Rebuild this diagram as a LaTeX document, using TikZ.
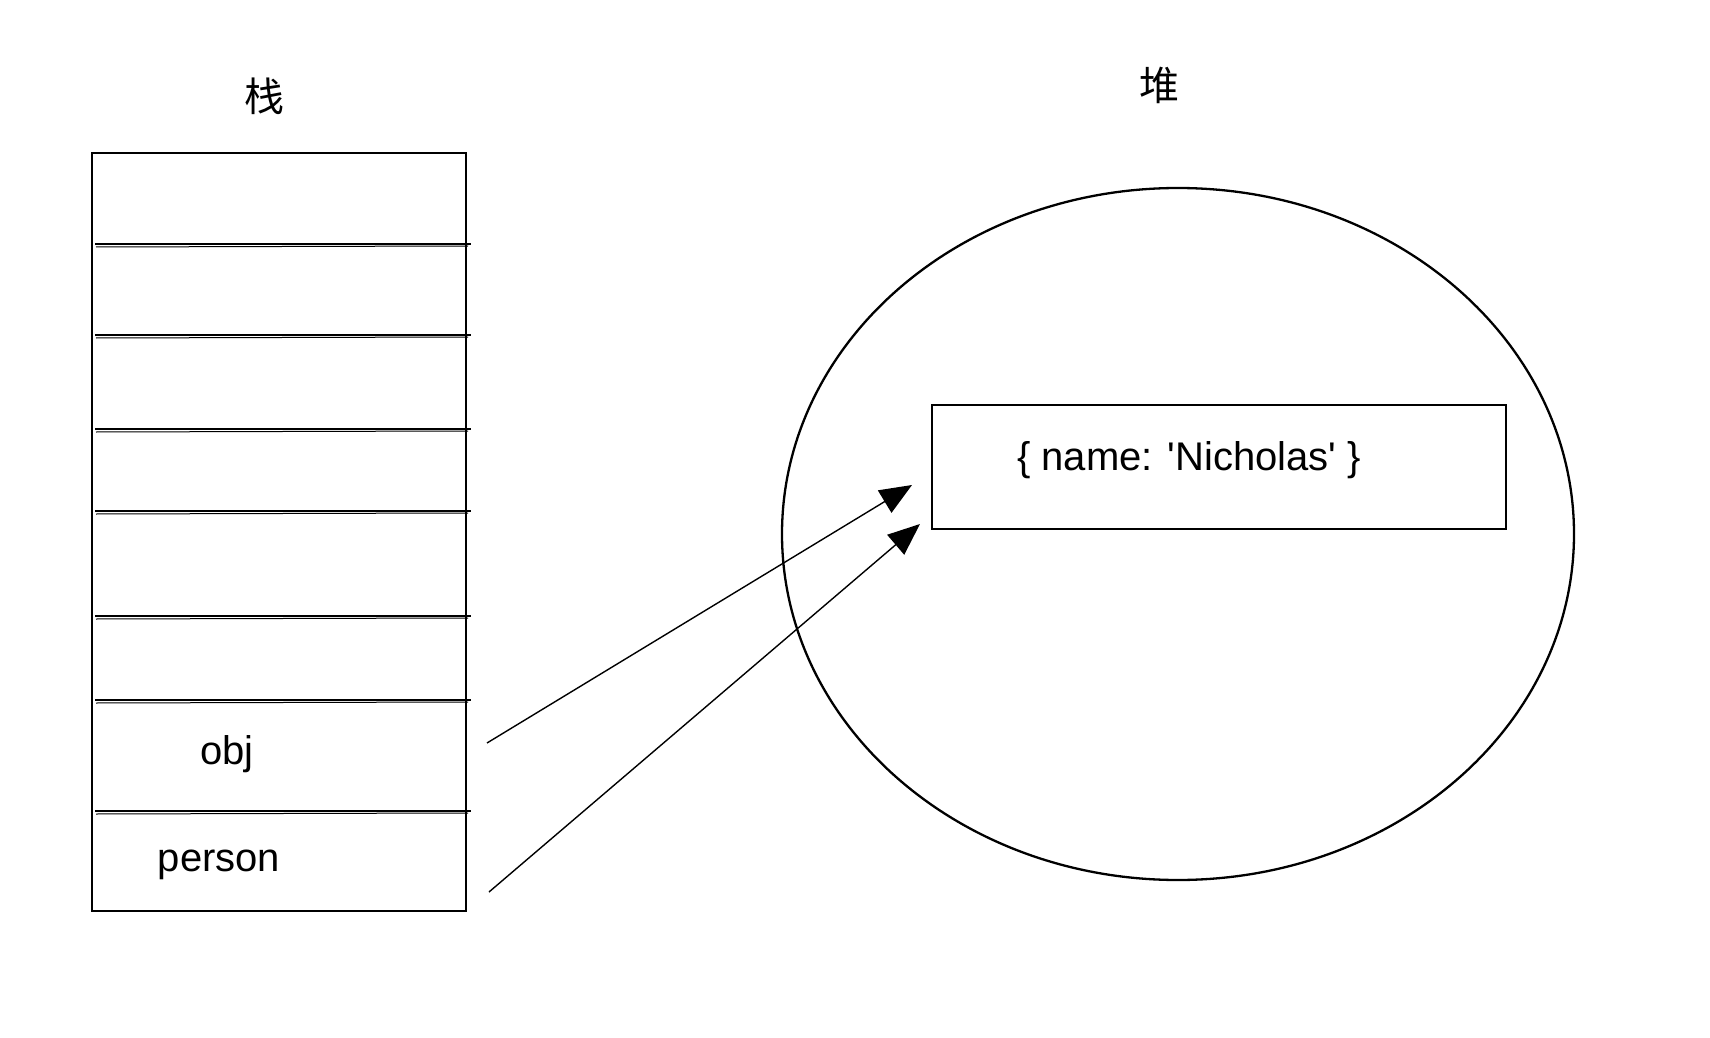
\documentclass[tikz,border=0pt]{standalone}
\usepackage{fontspec}
\setmainfont{Liberation Sans}
\newfontfamily\cjk{Noto Sans CJK SC}
\usetikzlibrary{arrows.meta,shapes.geometric}

\begin{document}
\begin{tikzpicture}[x=0.5pt,y=-0.5pt,
		sketch/.style={line width=1.15pt},
		lbl/.style={font=\fontsize{20}{24}\selectfont},
		ptr/.style={line width=0.7pt,-{Triangle[length=16pt,width=13pt]}}]
		\useasboundingbox (0,0) rectangle (1710,1038);

		\node[lbl] (stacktitle) at (264,96) {\cjk 栈};
		\node[lbl] (heaptitle) at (1159,85) {\cjk 堆};

		% stack
		\draw[sketch] (92,153) rectangle (466,911);
		\foreach \y in {244,335,429,511,616,700,811} {
			\draw[sketch] (95,\y) -- (471,\y);
			\draw[line width=0.5pt] (96,\y+3) -- (468,\y+2);
		}
		\node[lbl] (obj) at (227,754) {obj};
		\node[lbl] (person) at (219,865) {person};

		% heap
		\node[ellipse, draw, sketch, minimum width=396pt, minimum height=346pt, inner sep=0pt] (heap) at (1178,534) {};
		\node[draw, sketch, minimum width=287pt, minimum height=62pt, inner sep=0pt] (record) at (1219,467) {};
		\node[lbl] (recordtext) at (1189,460) {\{ name: \textquotesingle Nicholas\textquotesingle{} \}};

		\coordinate (objref) at (487,743);
		\coordinate (personref) at (489,892);
		\coordinate (objtip) at (912,485);
		\coordinate (persontip) at (920,524);

		\draw[ptr] (objref) -- (objtip);
		\draw[ptr] (personref) -- (persontip);
	\end{tikzpicture}
\end{document}
